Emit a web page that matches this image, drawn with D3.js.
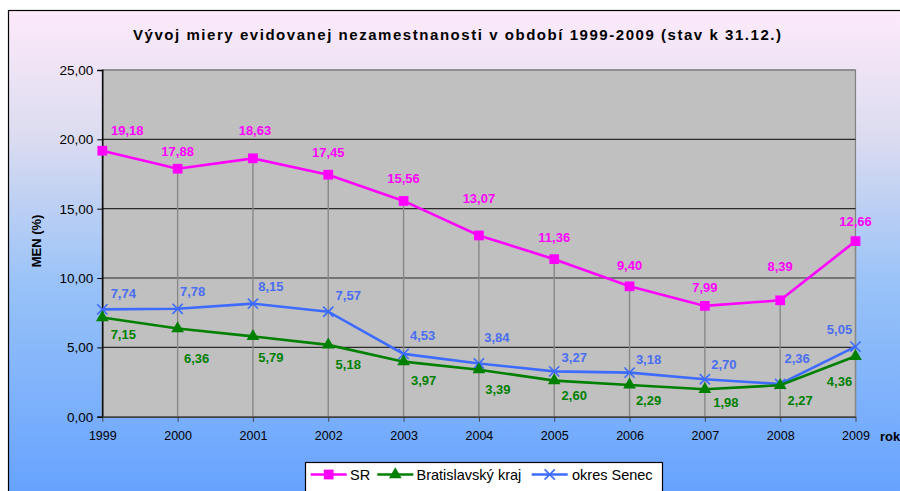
<!DOCTYPE html>
<html>
<head>
<meta charset="utf-8">
<script src="https://cdn.jsdelivr.net/npm/d3@7"></script>
<style>
  body { margin: 0; background: #fff; }
  svg { display: block; font-family: "Liberation Sans", Arial, sans-serif; }
  .axis text { fill: #000; }
</style>
</head>
<body>
<svg id="chart"></svg>
<script>
// data
var years = ['1999', '2000', '2001', '2002', '2003', '2004', '2005', '2006', '2007', '2008', '2009'];
var srValues = [19.18, 17.88, 18.63, 17.45, 15.56, 13.07, 11.36, 9.40, 7.99, 8.39, 12.66];
var baValues = [7.15, 6.36, 5.79, 5.18, 3.97, 3.39, 2.60, 2.29, 1.98, 2.27, 4.36];
var senecValues = [7.74, 7.78, 8.15, 7.57, 4.53, 3.84, 3.27, 3.18, 2.70, 2.36, 5.05];
var yTicks = [0, 5, 10, 15, 20, 25];

// label offsets (layout only, dx/dy from the point)
var srLabelOffsets = [[25, -20], [0, -17], [2, -28], [0, -22], [0, -22], [0, -37], [0, -22], [0, -21], [0, -18], [0, -34], [0, -20]];
var baLabelOffsets = [[21, 17], [19, 30], [18, 21], [20, 20], [20, 19], [19, 20], [20, 15], [19, 16], [21, 13], [20, 15], [-16, 25]];
var senecLabelOffsets = [[21, -16], [15, -17], [18, -17], [20, -16], [19, -18], [18, -26], [20, -14], [19, -13], [19, -15], [17, -26], [-16, -17]];

var W = 900, H = 491;
var plot = { left: 102.3, right: 855.5, top: 70, bottom: 416.7 };

var fmt = d => d3.format('.2f')(d).replace('.', ',');

var svg = d3.select('#chart').attr('width', W).attr('height', H);

/**
 * background
 */
var defs = svg.append('defs');
var grad = defs.append('linearGradient')
  .attr('id', 'bg').attr('x1', 0).attr('y1', 0).attr('x2', 0).attr('y2', 1);
grad.append('stop').attr('offset', '0%').attr('stop-color', '#fdeafa');
grad.append('stop').attr('offset', '25%').attr('stop-color', '#dcdcf0');
grad.append('stop').attr('offset', '55%').attr('stop-color', '#98c2f8');
grad.append('stop').attr('offset', '100%').attr('stop-color', '#62a0ff');

svg.append('rect')
  .attr('x', 8.5).attr('y', 10.5).attr('width', W + 10).attr('height', H + 10)
  .attr('fill', 'url(#bg)')
  .attr('stroke', '#000').attr('stroke-width', 1.2);

/**
 * scales
 */
var x = d3.scalePoint().domain(years).range([plot.left, plot.right]);
var y = d3.scaleLinear().domain([0, 25]).range([plot.bottom, plot.top]);

var chart = svg.append('g');

// plot area
chart.append('rect')
  .attr('x', plot.left).attr('y', plot.top)
  .attr('width', plot.right - plot.left).attr('height', plot.bottom - plot.top)
  .attr('fill', '#c0c0c0')
  .attr('stroke', '#808080').attr('stroke-width', 1.2);

// horizontal gridlines
chart.append('g').selectAll('line')
  .data(yTicks.filter(d => d > 0))
  .enter().append('line')
    .attr('x1', plot.left).attr('x2', plot.right)
    .attr('y1', d => y(d)).attr('y2', d => y(d))
    .attr('stroke', d => d === 25 ? '#808080' : '#2a2a2a')
    .attr('stroke-width', 1.2);

// drop lines from the top series
chart.append('g').selectAll('line')
  .data(years)
  .enter().append('line')
    .attr('x1', d => x(d)).attr('x2', d => x(d))
    .attr('y1', (d, i) => y(srValues[i])).attr('y2', plot.bottom)
    .attr('stroke', '#888').attr('stroke-width', 1.4);

/**
 * axes
 */
var yAxis = chart.append('g')
  .attr('class', 'axis')
  .attr('transform', `translate(${ plot.left }, 0)`)
  .call(d3.axisLeft(y).tickValues(yTicks).tickFormat(fmt).tickSize(5).tickPadding(4));
yAxis.selectAll('text').attr('font-size', '13.5px');
yAxis.select('.domain').attr('stroke', '#000').attr('stroke-width', 1.4);
yAxis.selectAll('.tick line').attr('stroke', '#000');

var xAxis = chart.append('g')
  .attr('class', 'axis')
  .attr('transform', `translate(0, ${ plot.bottom })`)
  .call(d3.axisBottom(x).tickSize(5).tickPadding(9).tickSizeOuter(0));
xAxis.selectAll('text').attr('font-size', '12.5px');
xAxis.select('.domain').attr('stroke', '#404040').attr('stroke-width', 1.6);
xAxis.selectAll('.tick line').attr('stroke', '#404040');

/**
 * series
 */
var series = [
  { name: 'SR', values: srValues, color: '#ff00ff', labelColor: '#ff00ff', symbol: d3.symbolSquare, size: 95, filled: true, offsets: srLabelOffsets },
  { name: 'Bratislavský kraj', values: baValues, color: '#008000', labelColor: '#008000', symbol: d3.symbolTriangle, size: 70, filled: true, offsets: baLabelOffsets },
  { name: 'okres Senec', values: senecValues, color: '#3d6bff', labelColor: '#4a6ef2', symbol: d3.symbolX, size: 70, filled: false, offsets: senecLabelOffsets }
];

var line = d3.line()
  .x(d => x(d.year))
  .y(d => y(d.value));

var drawMarker = (g, s) => {
  g.append('path')
    .attr('d', d3.symbol().type(s.symbol).size(s.size)())
    .attr('fill', s.filled ? s.color : 'none')
    .attr('stroke', s.color)
    .attr('stroke-width', s.filled ? 0 : 1.6);
};

// draw in reverse so SR sits on top order like the reference
series.slice().reverse().forEach(s => {
  var pts = years.map((yr, i) => ({ year: yr, value: s.values[i] }));
  var g = chart.append('g');
  g.append('path')
    .datum(pts)
    .attr('d', line)
    .attr('fill', 'none')
    .attr('stroke', s.color)
    .attr('stroke-width', 2.6);
  pts.forEach(p => {
    var m = g.append('g').attr('transform', `translate(${ x(p.year) }, ${ y(p.value) })`);
    drawMarker(m, s);
  });
});

// data labels
series.forEach(s => {
  chart.append('g').selectAll('text')
    .data(s.values)
    .enter().append('text')
      .attr('x', (d, i) => x(years[i]) + s.offsets[i][0])
      .attr('y', (d, i) => y(d) + s.offsets[i][1])
      .attr('dy', '.35em')
      .attr('text-anchor', 'middle')
      .attr('font-size', '13px')
      .attr('font-weight', 'bold')
      .attr('fill', s.labelColor)
      .text(fmt);
});

/**
 * titles
 */
svg.append('text')
  .attr('x', 457).attr('y', 35).attr('dy', '.35em')
  .attr('text-anchor', 'middle')
  .attr('font-size', '15px').attr('font-weight', 'bold')
  .attr('textLength', 648).attr('lengthAdjust', 'spacing')
  .text('Vývoj miery evidovanej nezamestnanosti v období 1999-2009 (stav k 31.12.)');

svg.append('text')
  .attr('transform', 'translate(36, 241) rotate(-90)')
  .attr('dy', '.35em')
  .attr('text-anchor', 'middle')
  .attr('font-size', '13px').attr('font-weight', 'bold')
  .text('MEN (%)');

svg.append('text')
  .attr('x', 880).attr('y', 436).attr('dy', '.35em')
  .attr('font-size', '13px').attr('font-weight', 'bold')
  .text('rok');

/**
 * legend
 */
var legend = svg.append('g');
legend.append('rect')
  .attr('x', 305.5).attr('y', 462.5).attr('width', 357).attr('height', 40)
  .attr('fill', '#fff').attr('stroke', '#000').attr('stroke-width', 1.2);

var legendItems = [
  { lineX: 310.7, textX: 350 },
  { lineX: 377.3, textX: 416.5 },
  { lineX: 531.7, textX: 572 }
];

series.forEach((s, i) => {
  var it = legendItems[i];
  var g = legend.append('g').attr('transform', `translate(${ it.lineX }, 474.5)`);
  g.append('line').attr('x1', 0).attr('x2', 36).attr('stroke', s.color).attr('stroke-width', 2.6);
  var m = g.append('g').attr('transform', 'translate(18, 0)');
  drawMarker(m, s);
  legend.append('text')
    .attr('x', it.textX).attr('y', 474.5).attr('dy', '.35em')
    .attr('font-size', '14.5px')
    .text(s.name);
});
</script>
</body>
</html>
